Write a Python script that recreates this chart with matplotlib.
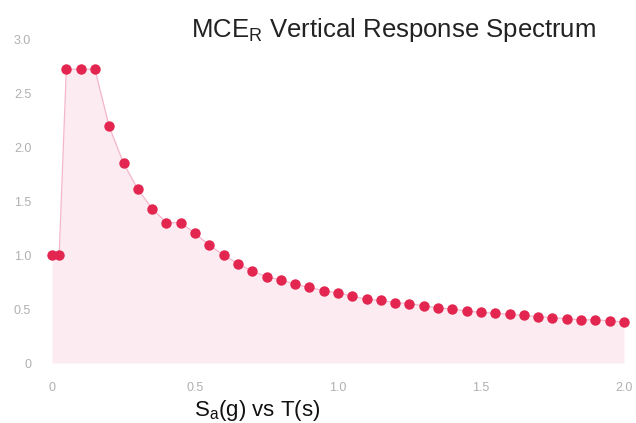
import matplotlib
matplotlib.use("Agg")
import matplotlib.pyplot as plt

# period T (s) and spectral acceleration Sa (g)
period = [0.0, 0.025, 0.05, 0.10, 0.15, 0.20, 0.25, 0.30, 0.35, 0.40, 0.45,
          0.50, 0.55, 0.60, 0.65, 0.70, 0.75, 0.80, 0.85, 0.90, 0.95, 1.00,
          1.05, 1.10, 1.15, 1.20, 1.25, 1.30, 1.35, 1.40, 1.45, 1.50, 1.55,
          1.60, 1.65, 1.70, 1.75, 1.80, 1.85, 1.90, 1.95, 2.00]
sa = [1.00, 1.00, 2.72, 2.72, 2.72, 2.19, 1.85, 1.61, 1.43, 1.30, 1.30,
      1.20, 1.09, 1.00, 0.92, 0.85, 0.80, 0.77, 0.73, 0.70, 0.67, 0.65,
      0.62, 0.59, 0.58, 0.56, 0.55, 0.53, 0.51, 0.50, 0.48, 0.47, 0.46,
      0.45, 0.44, 0.43, 0.42, 0.41, 0.40, 0.40, 0.39, 0.38]

xticks = [0, 0.5, 1.0, 1.5, 2.0]
xtick_labels = ["0", "0.5", "1.0", "1.5", "2.0"]
yticks = [0, 0.5, 1.0, 1.5, 2.0, 2.5, 3.0]
ytick_labels = ["0", "0.5", "1.0", "1.5", "2.0", "2.5", "3.0"]

plt.rcParams["font.family"] = ["Liberation Sans", "DejaVu Sans"]

fig = plt.figure(figsize=(6.36, 4.23), dpi=100)
ax = fig.add_axes([0.0818, 0.1418, 0.8993, 0.766])

ax.fill_between(period, sa, 0, color="#fcebf1", linewidth=0)
ax.plot(period, sa, color="#f4b6cc", linewidth=0.9, clip_on=False)
ax.plot(period, sa, linestyle="none", marker="o", markersize=7.5,
        color="#e3264f", markeredgewidth=0, clip_on=False, zorder=3)

ax.set_xlim(0, 2.0)
ax.set_ylim(0, 3.0)
ax.set_xticks(xticks)
ax.set_xticklabels(xtick_labels)
ax.set_yticks(yticks)
ax.set_yticklabels(ytick_labels)
ax.tick_params(length=0, labelsize=9, labelcolor="#b0b0b0")
ax.tick_params(axis="x", pad=14)
ax.tick_params(axis="y", pad=15)
for s in ax.spines.values():
    s.set_visible(False)

fig.text(0.618, 0.93, r"MCE$_\mathregular{R}$ Vertical Response Spectrum",
         ha="center", va="center", fontsize=18.5, color="#222222")
fig.text(0.405, 0.03, r"S$_\mathregular{a}$(g) vs T(s)",
         ha="center", va="center", fontsize=16, color="#111111")

fig.savefig("out.png", dpi=100)
